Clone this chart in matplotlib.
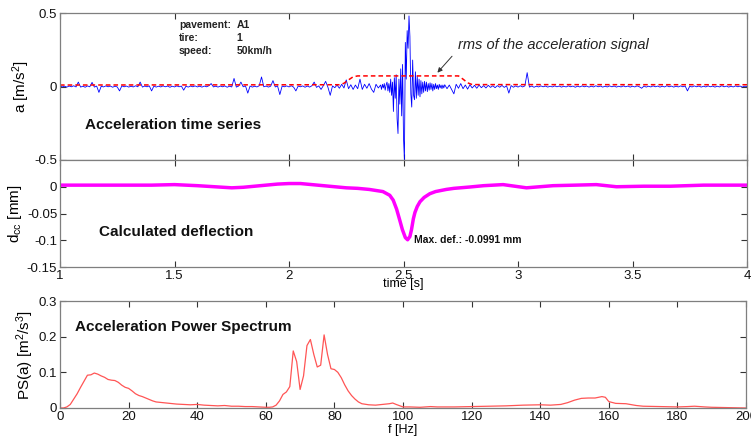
import numpy as np
import matplotlib
matplotlib.use("Agg")
import matplotlib.pyplot as plt

plt.rcParams["font.family"] = ["Liberation Sans", "DejaVu Sans"]
plt.rcParams["mathtext.fontset"] = "custom"
plt.rcParams["mathtext.rm"] = "Liberation Sans"
plt.rcParams["mathtext.it"] = "Liberation Sans:italic"

# --- acceleration signal, sampled in three pieces (quiet / impact / quiet) ---
ACC_T1 = np.round(1.00 + 0.01 * np.arange(140), 3)
ACC_A1 = [
    0.004, -0.003, 0.002, -0.004, 0.003, -0.002, 0.005, -0.003, 0.03, -0.004,
    0.002, -0.005, 0.004, -0.002, 0.028, -0.004, 0.003, -0.04, 0.002, -0.003,
    0.004, -0.002, 0.003, -0.005, 0.002, -0.003, -0.03, 0.004, -0.002, 0.003,
    -0.004, 0.002, -0.003, 0.005, -0.002, 0.03, -0.004, 0.003, -0.002, 0.004,
    -0.03, 0.003, -0.004, 0.002, -0.003, 0.004, -0.002, 0.003, -0.005, 0.002,
    -0.003, 0.004, -0.002, 0.003, -0.025, 0.002, -0.004, 0.003, -0.002, 0.004,
    -0.003, 0.002, -0.004, 0.003, -0.002, 0.005, 0.02, -0.003, 0.002, -0.004,
    0.003, -0.002, 0.004, -0.005, 0.002, -0.003, 0.055, -0.004, 0.003, 0.03,
    -0.002, 0.004, -0.045, 0.003, -0.004, 0.002, -0.003, 0.005, 0.065, -0.002,
    0.003, -0.004, 0.002, 0.04, -0.003, 0.004, -0.055, 0.003, -0.002, 0.004,
    -0.003, 0.005, -0.004, -0.03, 0.003, -0.002, 0.004, -0.005, 0.003, -0.004,
    0.005, 0.03, -0.006, 0.004, -0.02, 0.006, 0.035, -0.005, -0.06, 0.004,
    -0.008, 0.01, -0.012, 0.015, -0.01, 0.045, -0.015, 0.012, -0.02, 0.01,
    -0.015, 0.05, -0.02, 0.015, -0.012, 0.02, -0.018, -0.04, 0.015, -0.01,
]
ACC_T2 = np.round(2.40 + 0.004 * np.arange(70), 3)
ACC_A2 = [
    0.01, -0.02, 0.015, -0.01, 0.02, -0.025, 0.01, 0.03, -0.03, 0.02,
    -0.04, 0.05, -0.06, 0.03, -0.17, 0.06, -0.08, 0.08, -0.22, -0.32,
    0.05, -0.12, 0.12, -0.20, 0.15, -0.35, -0.50, 0.30, 0.05, 0.38,
    0.26, 0.48, 0.34, -0.05, -0.14, 0.18, -0.06, -0.09, 0.10, -0.08,
    0.07, -0.06, 0.05, -0.07, 0.04, -0.05, 0.03, -0.04, 0.035, -0.03,
    0.03, -0.035, 0.02, -0.025, 0.025, -0.02, 0.02, -0.03, 0.015, -0.02,
    0.02, -0.015, 0.01, -0.02, 0.015, -0.01, 0.01, -0.015, 0.01, -0.01,
]
ACC_T3 = np.round(2.68 + 0.01 * np.arange(133), 3)
ACC_A3 = [
    0.012, -0.015,
    0.01, -0.02, -0.05, 0.015, -0.012, 0.02, -0.015, 0.01, -0.018, 0.012,
    -0.01, 0.008, -0.012, 0.01, -0.008, 0.006, -0.01, 0.008, -0.006, 0.005,
    -0.008, 0.006, -0.005, 0.007, -0.006, 0.005, -0.045, 0.006, -0.005, 0.004,
    -0.004, 0.005, -0.003, 0.004, 0.094, -0.004, 0.003, -0.005, 0.002, -0.003,
    0.004, -0.002, 0.003, -0.004, 0.002, -0.003, 0.004, -0.002, 0.003, -0.004,
    0.002, -0.003, 0.004, -0.002, 0.003, -0.005, 0.002, -0.003, 0.004, -0.002,
    0.003, -0.004, 0.002, -0.003, 0.005, -0.002, 0.003, -0.004, 0.002, -0.003,
    0.004, -0.002, 0.003, -0.004, 0.002, -0.003, 0.004, -0.002, 0.003, -0.004,
    0.002, -0.003, 0.004, -0.002, -0.012, 0.003, -0.004, 0.002, -0.003, 0.004,
    -0.002, 0.003, -0.004, 0.002, -0.003, 0.005, -0.002, 0.003, -0.004, 0.002,
    -0.003, 0.004, -0.002, 0.003, -0.03, 0.002, -0.003, 0.004, -0.002, 0.003,
    -0.004, 0.002, -0.003, 0.004, -0.002, 0.003, -0.004, 0.002, -0.003, 0.005,
    -0.002, 0.003, -0.004, 0.002, -0.003, 0.004, -0.002, 0.003, -0.004, 0.002,
    0.0,
]

# rms envelope (red dashed)
RMS_T = [1.0, 2.22, 2.24, 2.26, 2.28, 2.30, 2.74, 2.76, 2.78, 2.80, 4.0]
RMS_A = [0.010, 0.012, 0.022, 0.045, 0.066, 0.072, 0.072, 0.050, 0.025, 0.013, 0.012]

# calculated deflection
DEF_T = [1.0, 1.2, 1.3, 1.4, 1.5, 1.6, 1.75, 1.8, 1.9, 1.95, 2.0, 2.05, 2.1,
         2.15, 2.2, 2.25, 2.3, 2.35, 2.41, 2.44, 2.455, 2.47, 2.484, 2.495,
         2.508, 2.518, 2.528, 2.535, 2.543, 2.55, 2.56, 2.572, 2.59, 2.615,
         2.64, 2.687, 2.72, 2.789, 2.85, 2.935, 3.037, 3.153, 3.25, 3.342,
         3.43, 3.55, 3.665, 3.81, 4.0]
DEF_D = [0.003, 0.003, 0.003, 0.003, 0.004, 0.002, -0.002, -0.001, 0.003, 0.005,
         0.006, 0.006, 0.004, 0.002, 0.0, -0.002, -0.003, -0.005, -0.009, -0.016,
         -0.025, -0.042, -0.063, -0.08, -0.095, -0.0991, -0.093, -0.08, -0.06,
         -0.048, -0.037, -0.028, -0.02, -0.013, -0.009, -0.005, -0.003, -0.0005,
         0.002, 0.004, -0.002, 0.002, 0.003, 0.004, 0.0, 0.001, 0.001, 0.003, 0.003]

# acceleration power spectrum
PS_F = [0, 1, 2, 3, 4, 5, 6, 7, 8, 9, 10, 11, 12, 13, 14, 15, 16, 17, 18, 19,
        20, 21, 22, 23, 24, 25, 26, 27, 28, 30, 32, 34, 36, 38, 40, 42, 44, 46,
        48, 50, 52, 54, 56, 58, 60, 61, 62, 63, 64, 65, 66, 67, 68, 69, 70, 71,
        72, 73, 74, 75, 76, 77, 78, 79, 80, 81, 82, 83, 84, 85, 86, 87, 88, 90,
        92, 94, 96, 97, 98, 100, 102, 105, 108, 110, 115, 120, 125, 130, 135,
        140, 143, 146, 148, 150, 152, 154, 156, 158, 159, 160, 162, 165, 168,
        170, 175, 180, 183, 185, 188, 190, 195, 200]
PS_V = [0.0, 0.0, 0.003, 0.01, 0.025, 0.04, 0.058, 0.075, 0.092, 0.093, 0.098,
        0.095, 0.09, 0.086, 0.08, 0.078, 0.077, 0.072, 0.064, 0.058, 0.055,
        0.048, 0.04, 0.035, 0.032, 0.028, 0.024, 0.02, 0.017, 0.015, 0.013,
        0.011, 0.010, 0.009, 0.010, 0.008, 0.007, 0.006, 0.007, 0.005, 0.005,
        0.004, 0.004, 0.003, 0.002, 0.002, 0.003, 0.008, 0.02, 0.038, 0.045,
        0.06, 0.16, 0.13, 0.052, 0.09, 0.175, 0.192, 0.15, 0.115, 0.12, 0.205,
        0.15, 0.11, 0.108, 0.1, 0.085, 0.065, 0.048, 0.035, 0.025, 0.017,
        0.012, 0.009, 0.008, 0.01, 0.012, 0.014, 0.01, 0.003, 0.003, 0.002,
        0.004, 0.003, 0.003, 0.004, 0.005, 0.006, 0.008, 0.009, 0.008, 0.01,
        0.015, 0.022, 0.027, 0.028, 0.028, 0.032, 0.03, 0.018, 0.013, 0.012,
        0.007, 0.005, 0.004, 0.003, 0.004, 0.005, 0.003, 0.002, 0.001, 0.0]

SPINE = "#7f7f7f"
W, H = 751, 441


def style_axes(ax):
    for s in ax.spines.values():
        s.set_color(SPINE)
        s.set_linewidth(0.9)
    ax.tick_params(direction="in", length=4, width=0.8, color="#333333",
                   top=True, right=True, labelsize=9.5, labelcolor="#111111", pad=2)


fig = plt.figure(figsize=(W / 100, H / 100), dpi=100)
ax1 = fig.add_axes([60 / W, 1 - 160 / H, 687 / W, 147 / H])
ax2 = fig.add_axes([60 / W, 1 - 267 / H, 687 / W, 107 / H], sharex=ax1)
ax3 = fig.add_axes([60 / W, 1 - 408 / H, 686 / W, 107 / H])

# --- top: acceleration time series ---
t_acc = np.concatenate([ACC_T1, ACC_T2, ACC_T3])
a_acc = np.concatenate([ACC_A1, ACC_A2, ACC_A3])
ax1.plot(t_acc, a_acc, color="#0000ff", lw=0.6)
ax1.plot(RMS_T, RMS_A, color="#ff0000", lw=1.1, ls=(0, (3, 2)))
ax1.set_xlim(1, 4)
ax1.set_ylim(-0.5, 0.5)
ax1.set_yticks([-0.5, 0, 0.5])
ax1.set_yticklabels(["-0.5", "0", "0.5"])
ax1.set_ylabel("a [m/s$^2$]", fontsize=11, labelpad=2)
style_axes(ax1)
ax1.tick_params(labelbottom=False)
ax1.text(1.11, -0.26, "Acceleration time series", fontsize=11, fontweight="bold",
         va="center", color="#111111")
for i, (k, v) in enumerate([("pavement:", "A1"), ("tire:", "1"), ("speed:", "50km/h")]):
    y = 0.42 - i * 0.09
    ax1.text(1.52, y, k, fontsize=7.5, fontweight="bold", va="center", color="#222222")
    ax1.text(1.77, y, v, fontsize=7.5, fontweight="bold", va="center", color="#222222")
ax1.text(2.74, 0.28, "rms of the acceleration signal", fontsize=10.5, style="italic",
         va="center", color="#222222")
ax1.annotate("", xy=(2.64, 0.08), xytext=(2.72, 0.22),
             arrowprops=dict(arrowstyle="-|>", color="#333333", lw=0.7,
                             mutation_scale=7))

# --- middle: deflection ---
ax2.plot(DEF_T, DEF_D, color="#ff00ff", lw=2.5, solid_joinstyle="round")
ax2.set_ylim(-0.15, 0.05)
ax2.set_yticks([-0.15, -0.1, -0.05, 0])
ax2.set_yticklabels(["-0.15", "-0.1", "-0.05", "0"])
ax2.set_xticks([1, 1.5, 2, 2.5, 3, 3.5, 4])
ax2.set_xticklabels(["1", "1.5", "2", "2.5", "3", "3.5", "4"])
ax2.set_ylabel(r"d$_{\mathrm{cc}}$ [mm]", fontsize=11, labelpad=2)
style_axes(ax2)
ax2.set_xlabel("time [s]", fontsize=9, labelpad=-3)
ax2.text(1.17, -0.085, "Calculated deflection", fontsize=11, fontweight="bold",
         va="center", color="#111111")
ax2.text(2.545, -0.1, "Max. def.: -0.0991 mm", fontsize=7.5, fontweight="bold",
         va="center", color="#111111")

# --- bottom: power spectrum ---
ax3.plot(PS_F, PS_V, color="#ff5555", lw=0.9)
ax3.set_xlim(0, 200)
ax3.set_ylim(0, 0.3)
ax3.set_xticks(range(0, 201, 20))
ax3.set_yticks([0, 0.1, 0.2, 0.3])
ax3.set_yticklabels(["0", "0.1", "0.2", "0.3"])
ax3.set_ylabel("PS(a) [m$^2$/s$^3$]", fontsize=11, labelpad=2)
ax3.set_xlabel("f [Hz]", fontsize=9, labelpad=1)
style_axes(ax3)
ax3.text(4.4, 0.227, "Acceleration Power Spectrum", fontsize=11, fontweight="bold",
         va="center", color="#111111")

fig.savefig("out.png", dpi=100, facecolor="white")
